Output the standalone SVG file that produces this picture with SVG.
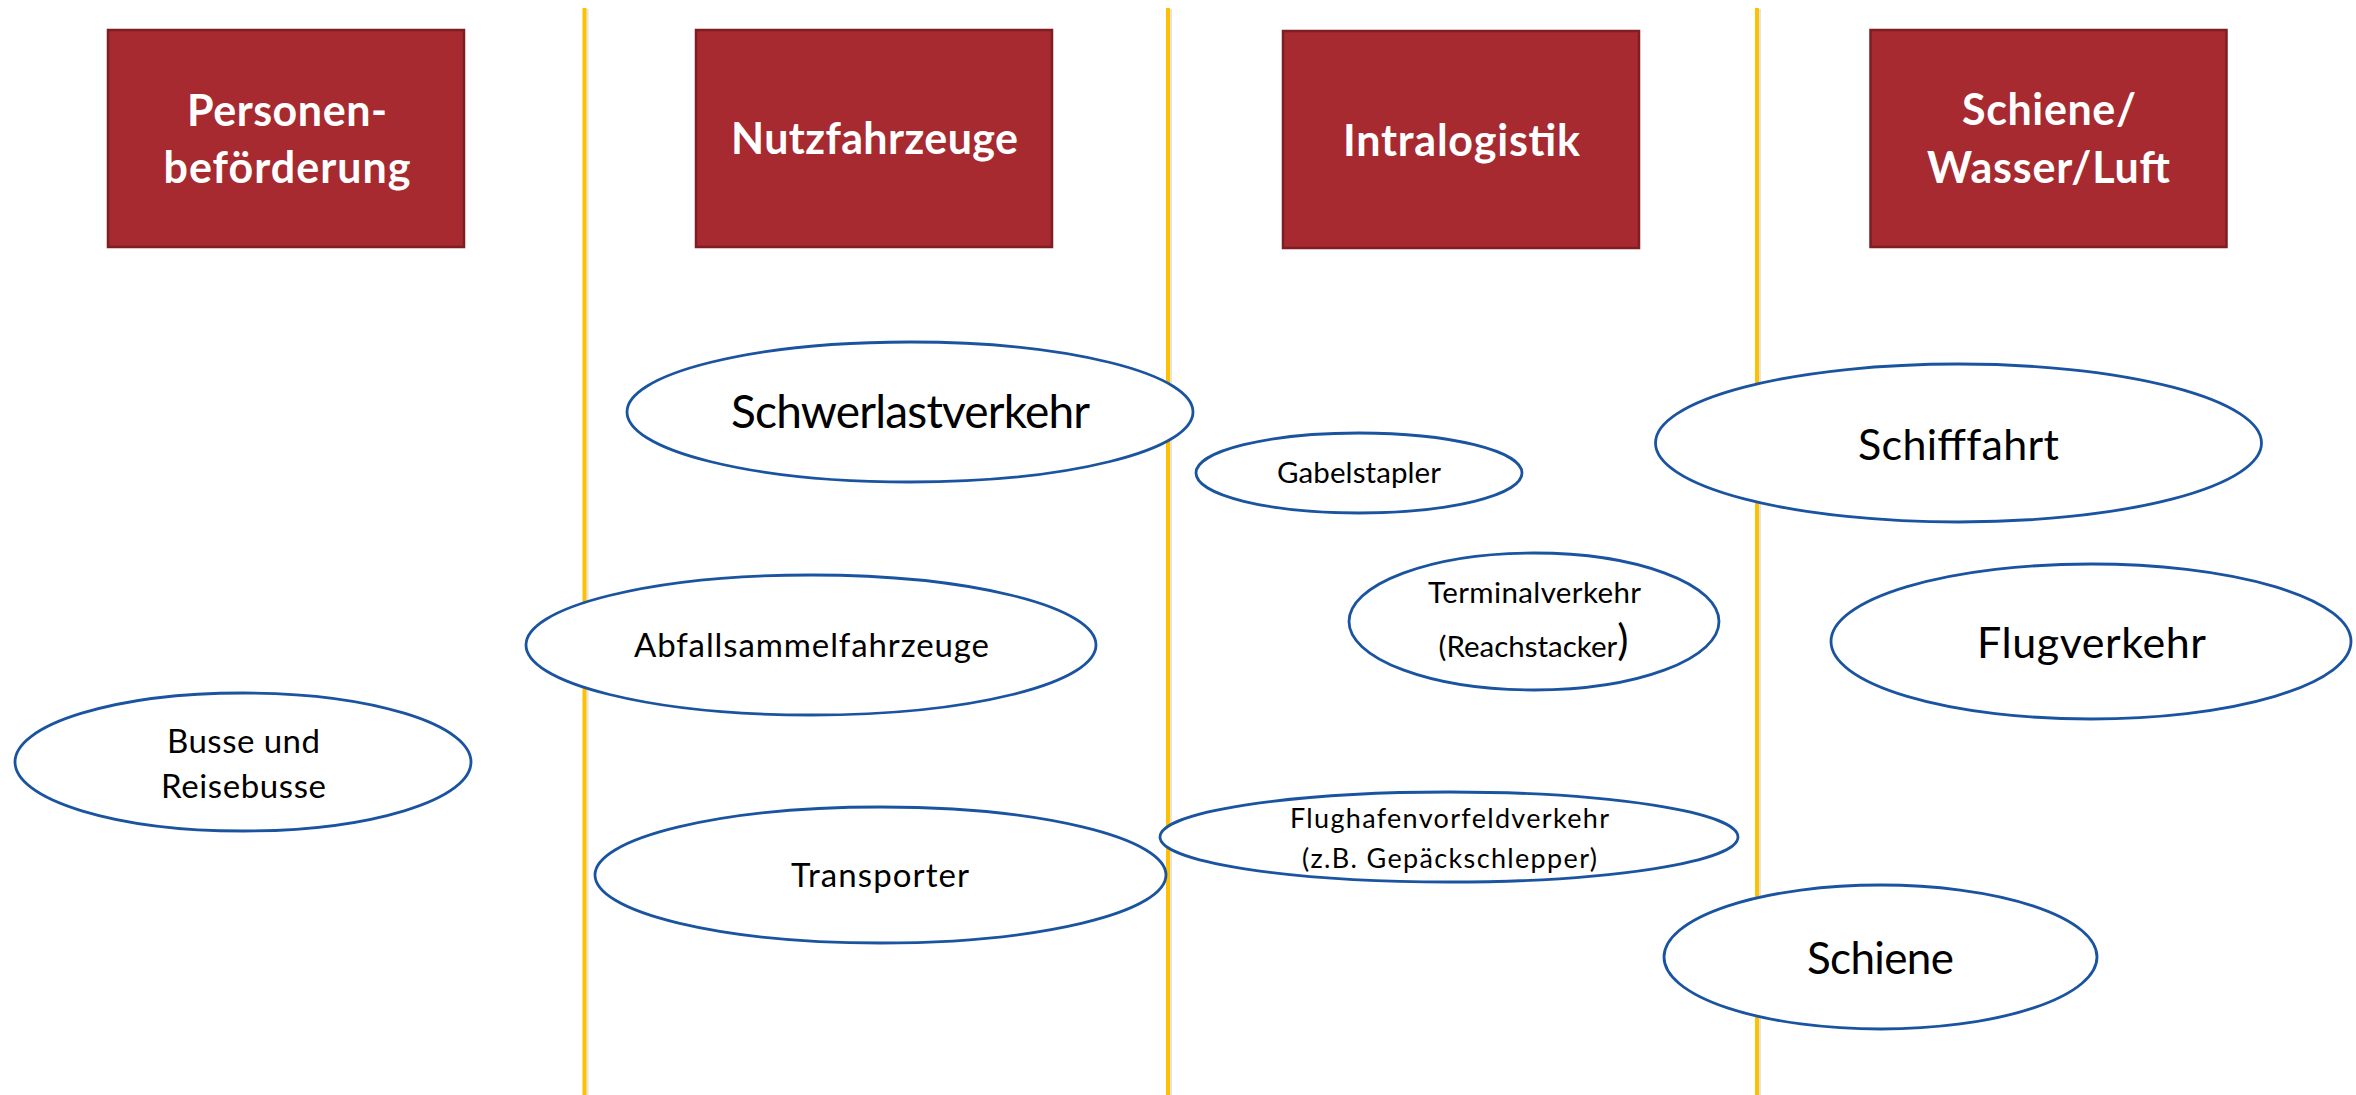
<svg xmlns="http://www.w3.org/2000/svg" width="2356" height="1095" viewBox="0 0 2356 1095">
  <style>
    .sep { stroke: #FFC000; stroke-width: 4; fill: none; }
    .sep-shadow { stroke: #D8D8D8; stroke-width: 2; fill: none; opacity: 0.7; }
    .head rect { fill: #A62A30; stroke: #7E1E23; stroke-width: 2.5; }
    .head text { fill: #FFFFFF; font-family: Lato, "Open Sans", "Liberation Sans", sans-serif; font-weight: bold; font-size: 43px; text-anchor: middle; }
    .item ellipse { fill: #FFFFFF; stroke: #1A54A0; stroke-width: 2.8; }
    .item text { fill: #000000; font-family: Lato, "Open Sans", "Liberation Sans", sans-serif; text-anchor: middle; }
  </style>

  <rect width="2356" height="1095" fill="#FFFFFF"/>

  <!-- column separators -->
  <g id="connectors">
    <line class="sep-shadow" x1="587.5" y1="9" x2="587.5" y2="1095"/>
    <line class="sep-shadow" x1="1171" y1="9" x2="1171" y2="1095"/>
    <line class="sep-shadow" x1="1760" y1="9" x2="1760" y2="1095"/>
    <line class="sep" x1="584.5" y1="8" x2="584.5" y2="1095"/>
    <line class="sep" x1="1168" y1="8" x2="1168" y2="1095"/>
    <line class="sep" x1="1757" y1="8" x2="1757" y2="1095"/>
  </g>

  <!-- column headers -->
  <g id="head-personen" class="head">
    <rect x="108" y="30" width="356" height="217"/>
    <text x="287" y="126" textLength="200">Personen-</text>
    <text x="287" y="183" textLength="247">beförderung</text>
  </g>
  <g id="head-nutzfahrzeuge" class="head">
    <rect x="696" y="30" width="356" height="217"/>
    <text x="874.5" y="154" textLength="287">Nutzfahrzeuge</text>
  </g>
  <g id="head-intralogistik" class="head">
    <rect x="1283" y="31" width="356" height="217"/>
    <text x="1461.5" y="156" textLength="237">Intralogistik</text>
  </g>
  <g id="head-schiene-wasser-luft" class="head">
    <rect x="1870.5" y="30" width="356" height="217"/>
    <text x="2049" y="125" textLength="174">Schiene/</text>
    <text x="2048.5" y="183" textLength="243">Wasser/Luft</text>
  </g>

  <!-- application fields -->
  <g id="busse" class="item">
    <ellipse cx="243" cy="762" rx="228" ry="69"/>
    <text x="243.5" y="753" font-size="33" textLength="153">Busse und</text>
    <text x="243.5" y="798" font-size="33" textLength="165">Reisebusse</text>
  </g>

  <g id="schwerlastverkehr" class="item">
    <ellipse cx="910" cy="412" rx="283" ry="70"/>
    <text x="910.5" y="428" font-size="46" textLength="359">Schwerlastverkehr</text>
  </g>
  <g id="abfallsammelfahrzeuge" class="item">
    <ellipse cx="811" cy="645" rx="285" ry="70"/>
    <text x="811.5" y="657" font-size="33" textLength="355">Abfallsammelfahrzeuge</text>
  </g>
  <g id="transporter" class="item">
    <ellipse cx="880.5" cy="875" rx="285.5" ry="68"/>
    <text x="880" y="887" font-size="33" textLength="178">Transporter</text>
  </g>

  <g id="gabelstapler" class="item">
    <ellipse cx="1359" cy="473" rx="163" ry="40"/>
    <text x="1359" y="483" font-size="29.5" textLength="164">Gabelstapler</text>
  </g>
  <g id="terminalverkehr" class="item">
    <ellipse cx="1534" cy="621.5" rx="185" ry="68.5"/>
    <text x="1534.5" y="603" font-size="29.5" textLength="213">Terminalverkehr</text>
    <text x="1533.5" y="657" font-size="29.5"><tspan>(Reachstacker</tspan><tspan font-size="42" dy="-2">)</tspan></text>
  </g>
  <g id="flughafenvorfeldverkehr" class="item">
    <ellipse cx="1449" cy="837" rx="289" ry="45"/>
    <text x="1449.5" y="828" font-size="27" textLength="319">Flughafenvorfeldverkehr</text>
    <text x="1449.5" y="868" font-size="27" textLength="295">(z.B. Gepäckschlepper)</text>
  </g>

  <g id="schifffahrt" class="item">
    <ellipse cx="1958.5" cy="443" rx="303" ry="79"/>
    <text x="1958.5" y="460" font-size="43" textLength="201">Schifffahrt</text>
  </g>
  <g id="flugverkehr" class="item">
    <ellipse cx="2091" cy="641.5" rx="260" ry="77.5"/>
    <text x="2091.5" y="658" font-size="43" textLength="229">Flugverkehr</text>
  </g>
  <g id="schiene" class="item">
    <ellipse cx="1880.5" cy="957" rx="216.5" ry="72"/>
    <text x="1880.5" y="974" font-size="44" textLength="147">Schiene</text>
  </g>
</svg>
